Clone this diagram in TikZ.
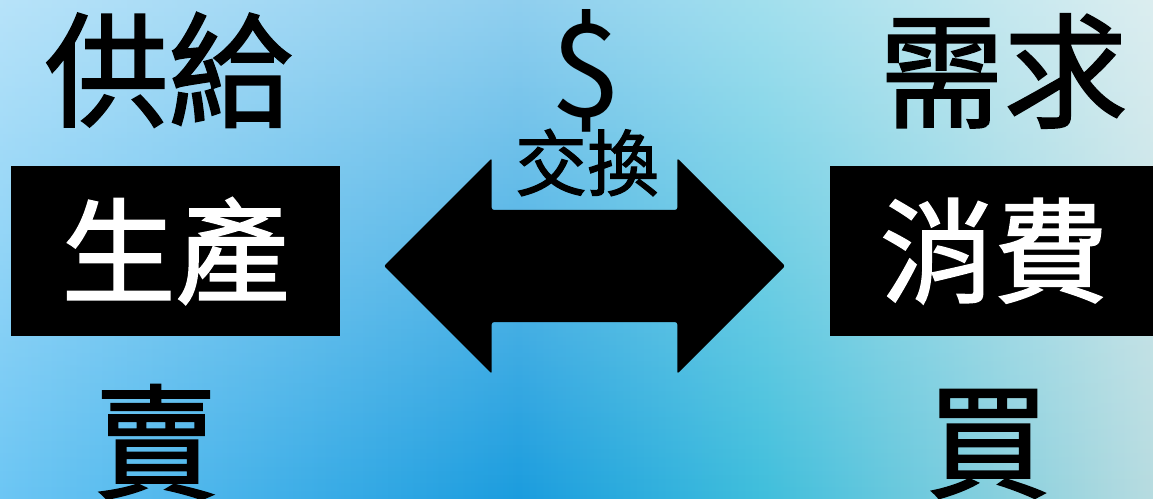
\documentclass[tikz,border=0pt]{standalone}
\usepackage{fontspec}
\newfontfamily\cjkfont{Noto Sans CJK TC}[FakeBold=1.6]
\newfontfamily\signfont{Noto Sans CJK TC}
\usetikzlibrary{shapes.arrows,fadings}
\definecolor{skyleft}{HTML}{6CC6F4}
\definecolor{skydeep}{HTML}{1A9CDE}
\definecolor{skyteal}{HTML}{3EBEDC}
\definecolor{skyright}{HTML}{B8DCE0}
\definecolor{ink}{HTML}{000000}
\pgfdeclarehorizontalshading{skyband}{100bp}{color(0bp)=(skyleft); color(25bp)=(skyleft);
  color(47.5bp)=(skydeep); color(58bp)=(skyteal); color(75bp)=(skyright); color(100bp)=(skyright)}
\tikzfading[name=skyfade, top color=transparent!0, bottom color=transparent!100]
\tikzset{
  headword/.style={text=ink,inner sep=0pt,
                   font=\cjkfont\fontsize{124pt}{124pt}\selectfont},
  dollarsign/.style={text=ink,inner sep=0pt,
                     font=\signfont\fontsize{128pt}{128pt}\selectfont},
  marketbox/.style={fill=ink,text=white,inner sep=0pt,
                    minimum width=329pt,minimum height=170pt,
                    font=\cjkfont\fontsize{114pt}{114pt}\selectfont},
  swaparrow/.style={double arrow,fill=ink,inner xsep=0pt,inner ysep=56pt,
                    minimum height=401pt,minimum width=215pt,
                    double arrow head extend=51.5pt,double arrow tip angle=90,
                    rounded corners=2pt},
  swaplabel/.style={text=ink,inner sep=0pt,
                    font=\cjkfont\fontsize{72pt}{72pt}\selectfont}
}
\begin{document}
\begin{tikzpicture}[x=1pt,y=-1pt]
  \useasboundingbox (0,0) rectangle (1153,498);
  % background
  \shade[shading=skyband] (-4,-4) rectangle (1157,502);
  \fill[white,fill opacity=0.52,path fading=skyfade] (-4,-4) rectangle (1157,502);

  % top row
  \node[headword] (supply) at (168.5,70) {供給};
  \node[dollarsign] (money) at (586.5,71) {\$};
  \node[headword] (demand) at (1003.5,71) {需求};

  % middle row
  \node[marketbox] (produce) at (175.5,251) {生產};
  \node[marketbox] (consume) at (994,251) {消費};
  \node[swaparrow] (swap) at (584.5,266) {};
  \node[swaplabel] (exchange) at (587,162.5) {交換};

  % bottom row
  \node[headword] (sell) at (156,442) {賣};
  \node[headword] (buy) at (988,444) {買};
\end{tikzpicture}
\end{document}
